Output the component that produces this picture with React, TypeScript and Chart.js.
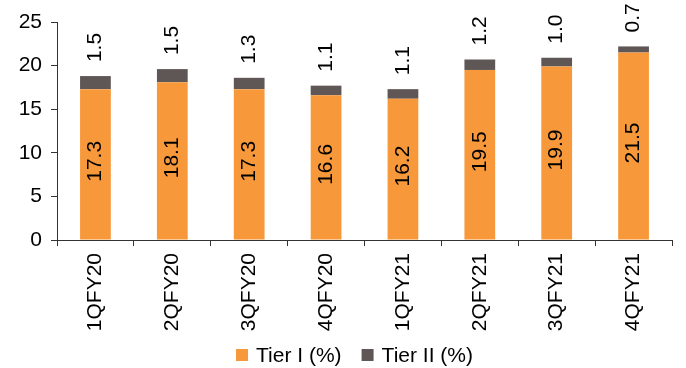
import React, { useEffect, useRef } from "react";
import { Chart, registerables } from "chart.js";

Chart.register(...registerables);

const quarters = ["1QFY20", "2QFY20", "3QFY20", "4QFY20", "1QFY21", "2QFY21", "3QFY21", "4QFY21"];
const tier1 = [17.3, 18.1, 17.3, 16.6, 16.2, 19.5, 19.9, 21.5];
const tier2 = [1.5, 1.5, 1.3, 1.1, 1.1, 1.2, 1.0, 0.7];
const yTicks = [0, 5, 10, 15, 20, 25];

const FONT = "'Liberation Sans', Arial, sans-serif";
const SIZE = 21;

// Draws value labels rotated 90°: Tier I centred in its segment, Tier II above the stack
const barValueLabels = {
  id: "barValueLabels",
  afterDatasetsDraw(chart: any) {
    const ctx = chart.ctx;
    ctx.save();
    ctx.font = `${SIZE}px ${FONT}`;
    ctx.fillStyle = "#000";
    chart.data.datasets.forEach((ds: any, di: number) => {
      const meta = chart.getDatasetMeta(di);
      meta.data.forEach((bar: any, i: number) => {
        const text = ds.data[i].toFixed(1);
        ctx.save();
        if (di === 0) {
          const cy = (bar.y + bar.base) / 2 - 3;
          ctx.translate(bar.x, cy);
          ctx.rotate(-Math.PI / 2);
          ctx.textAlign = "center";
          ctx.textBaseline = "middle";
          ctx.fillText(text, 0, 0);
        } else {
          ctx.translate(bar.x, bar.y - 14);
          ctx.rotate(-Math.PI / 2);
          ctx.textAlign = "left";
          ctx.textBaseline = "middle";
          ctx.fillText(text, 0, 0);
        }
        ctx.restore();
      });
    });
    ctx.restore();
  },
};

// Bottom legend: square swatch + series name, centred under the plot
const bottomLegend = {
  id: "bottomLegend",
  afterDraw(chart: any) {
    const ctx = chart.ctx;
    const box = 12;
    const textGap = 8;
    const itemGap = 20;
    const cy = 355;
    ctx.save();
    ctx.font = `${SIZE}px ${FONT}`;
    ctx.textBaseline = "middle";
    ctx.textAlign = "left";
    const items = chart.data.datasets.map((ds: any) => ({
      label: ds.label,
      color: ds.backgroundColor,
      w: box + textGap + ctx.measureText(ds.label).width,
    }));
    const total = items.reduce((s: number, it: any) => s + it.w, 0) + itemGap * (items.length - 1);
    let x = 354.5 - total / 2;
    items.forEach((it: any) => {
      ctx.fillStyle = it.color;
      ctx.fillRect(x, cy - box / 2, box, box);
      ctx.fillStyle = "#000";
      ctx.fillText(it.label, x + box + textGap, cy + 1);
      x += it.w + itemGap;
    });
    ctx.restore();
  },
};

export default function App() {
  const canvasRef = useRef<HTMLCanvasElement | null>(null);

  useEffect(() => {
    if (!canvasRef.current) return;
    const chart = new Chart(canvasRef.current, {
      type: "bar",
      data: {
        labels: quarters,
        datasets: [
          {
            label: "Tier I (%)",
            data: tier1,
            backgroundColor: "#F7983A",
            borderWidth: 0,
            barPercentage: 0.4,
            categoryPercentage: 1,
          },
          {
            label: "Tier II (%)",
            data: tier2,
            backgroundColor: "#5F5755",
            borderWidth: 0,
            barPercentage: 0.4,
            categoryPercentage: 1,
          },
        ],
      },
      options: {
        animation: false,
        responsive: false,
        maintainAspectRatio: false,
        layout: { padding: { top: 22, right: 14, left: 0, bottom: 0 } },
        plugins: {
          tooltip: { enabled: false },
          legend: { display: false },
        },
        scales: {
          x: {
            stacked: true,
            offset: true,
            afterFit(scale: any) {
              scale.height = 128;
            },
            grid: {
              display: true,
              drawOnChartArea: false,
              drawTicks: true,
              tickLength: 6,
              offset: true,
              color: "#333",
            },
            border: { display: true, color: "#333", width: 1 },
            ticks: {
              font: { family: FONT, size: SIZE },
              color: "#000",
              minRotation: 90,
              maxRotation: 90,
              padding: 7,
            },
          },
          y: {
            stacked: true,
            min: 0,
            max: 25,
            afterBuildTicks(scale: any) {
              scale.ticks = yTicks.map((v) => ({ value: v }));
            },
            afterFit(scale: any) {
              scale.width = 57;
            },
            grid: {
              display: true,
              drawOnChartArea: false,
              drawTicks: true,
              tickLength: 6,
              color: "#333",
            },
            border: { display: true, color: "#333", width: 1 },
            ticks: {
              font: { family: FONT, size: SIZE },
              color: "#000",
              padding: 9,
            },
          },
        },
      },
      plugins: [barValueLabels, bottomLegend],
    } as any);
    return () => chart.destroy();
  }, []);

  return (
    <div style={{ position: "absolute", left: 0, top: 0, width: 686, height: 368, background: "#fff" }}>
      <canvas ref={canvasRef} width={686} height={368} />
    </div>
  );
}
